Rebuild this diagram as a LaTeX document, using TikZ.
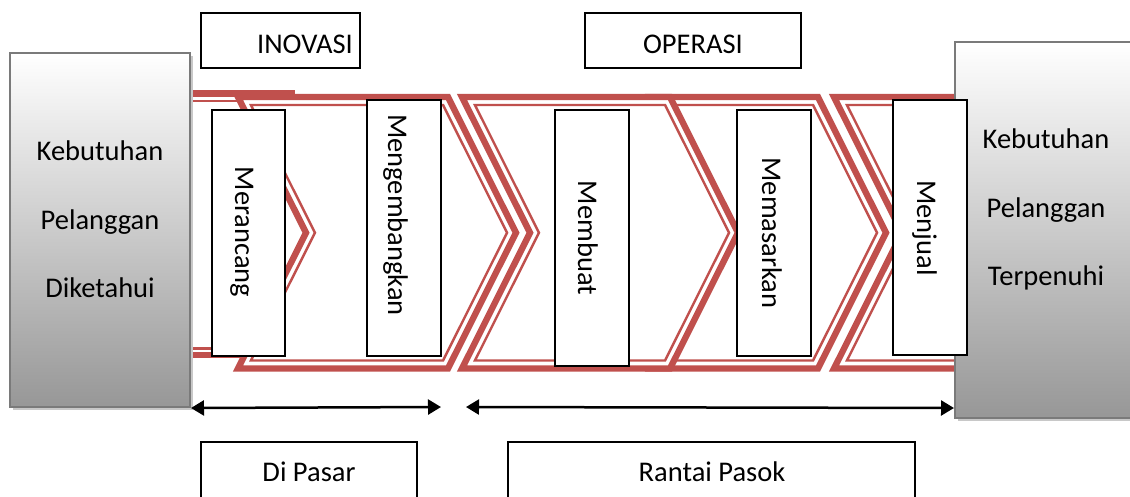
\documentclass[tikz,border=0pt]{standalone}
\usepackage{fontspec}
\setmainfont{Carlito}
\usetikzlibrary{arrows.meta,calc}
\definecolor{chevred}{HTML}{C0504D}
\definecolor{framegray}{HTML}{7A7A7A}
\definecolor{shadowgray}{HTML}{C8C8C8}
\definecolor{shadebottom}{HTML}{979797}

% a notched chevron: outer thick line plus a thin inner line
% #1 = x of the notch corners, #2 = x of the right corners
\newcommand\chevronstage[2]{%
  \filldraw[chevthick] (#1,97) -- (#2,97) -- ({#2+68},232.75) -- (#2,368.5)
    -- (#1,368.5) -- ({#1+68},232.75) -- cycle;
  \draw[chevthin] ({#1+12.95},105) -- ({#2-4.95},105) -- ({#2+59.05},232.75)
    -- ({#2-4.95},360.5) -- ({#1+12.95},360.5) -- ({#1+76.95},232.75) -- cycle;
}

\begin{document}
\begin{tikzpicture}[x=1pt,y=-1pt,
  chevthick/.style={draw=chevred, line width=6.3pt, line join=miter, fill=white},
  chevthin/.style={draw=chevred, line width=2.4pt, line join=miter},
  band/.style={draw=chevred, line width=#1},
  txt/.style={font=\fontsize{28.5}{34}\selectfont, inner sep=0pt},
  vtext/.style={txt, rotate=-90, anchor=base},
  htext/.style={txt, anchor=base},
  stepbox/.style={draw=black, line width=1.8pt, fill=white, inner sep=0pt},
  sidebox/.style={draw=framegray, line width=2pt, top color=white, bottom color=shadebottom,
    inner sep=0pt, preaction={fill=shadowgray, transform canvas={shift={(3pt,-3pt)}}}},
  span/.style={line width=2.5pt, {Triangle[length=13pt,width=15pt]}-{Triangle[length=13pt,width=15pt]}},
]
\clip (0,0) rectangle (1130,496);

% first stage: only its top and bottom edges show
\draw[band=6.8pt] (185,93.7) -- (295,93.7);
\draw[band=2.4pt] (185,101) -- (238,101);
\draw[band=6.5pt] (185,355) -- (244,355);
\draw[band=2.4pt] (185,348.5) -- (250,348.5);

% chevron stages
\chevronstage{238}{448}
\chevronstage{650}{818}
\chevronstage{462}{670}
% last stage, flat on the right
\filldraw[chevthick] (834,97) -- (1000,97) -- (1000,368.5) -- (834,368.5) -- (902,232.75) -- cycle;
\draw[chevthin] (846.95,105) -- (1000,105) -- (1000,360.5) -- (846.95,360.5) -- (910.95,232.75) -- cycle;

% customer boxes
\node[sidebox, minimum width=180pt, minimum height=354pt] (lbox) at (100,230) {};
\node[sidebox, minimum width=182pt, minimum height=376pt] (rbox) at (1046,230) {};
\node[htext] (l1) at (100,160.7) {Kebutuhan};
\node[htext] (l2) at (100,229) {Pelanggan};
\node[htext] (l3) at (100,297) {Diketahui};
\node[htext] (r1) at (1046,148) {Kebutuhan};
\node[htext] (r2) at (1046,217) {Pelanggan};
\node[htext] (r3) at (1046,285) {Terpenuhi};

% activity boxes
\node[stepbox, minimum width=73pt, minimum height=246pt] (merancang) at (248.5,233) {};
\node[stepbox, minimum width=74pt, minimum height=256pt] (mengembangkan) at (404,228) {};
\node[stepbox, minimum width=74pt, minimum height=256pt] (membuat) at (592,238) {};
\node[stepbox, minimum width=74pt, minimum height=246pt] (memasarkan) at (774,233) {};
\node[stepbox, minimum width=74pt, minimum height=255pt] (menjual) at (930,227.5) {};
\node[vtext] (merancangT) at (235,232) {Merancang};
\node[vtext] (mengembangkanT) at (388,215) {Mengembangkan};
\node[vtext] (membuatT) at (578,238) {Membuat};
\node[vtext] (memasarkanT) at (762,233) {Memasarkan};
\node[vtext] (menjualT) at (917,228) {Menjual};

% phase labels
\node[stepbox, minimum width=159pt, minimum height=55pt] (inovasi) at (280.5,40.5) {};
\node[stepbox, minimum width=216pt, minimum height=55pt] (operasi) at (693,40.5) {};
\node[htext] (inovasiT) at (305,53.5) {INOVASI};
\node[htext] (operasiT) at (693,53.5) {OPERASI};
\node[stepbox, minimum width=216pt, minimum height=60pt] (pasar) at (309,472) {};
\node[stepbox, minimum width=407pt, minimum height=60pt] (pasok) at (711.5,472) {};
\node[htext] (pasarT) at (309,481) {Di Pasar};
\node[htext] (pasokT) at (712,481) {Rantai Pasok};

% spans
\coordinate (pasarEnd) at (441,407);
\coordinate (pasokStart) at (466,407);
\draw[span] (lbox.south east) -- (pasarEnd);
\draw[span] (pasokStart) -- (rbox.south west |- lbox.south east);
\end{tikzpicture}
\end{document}
